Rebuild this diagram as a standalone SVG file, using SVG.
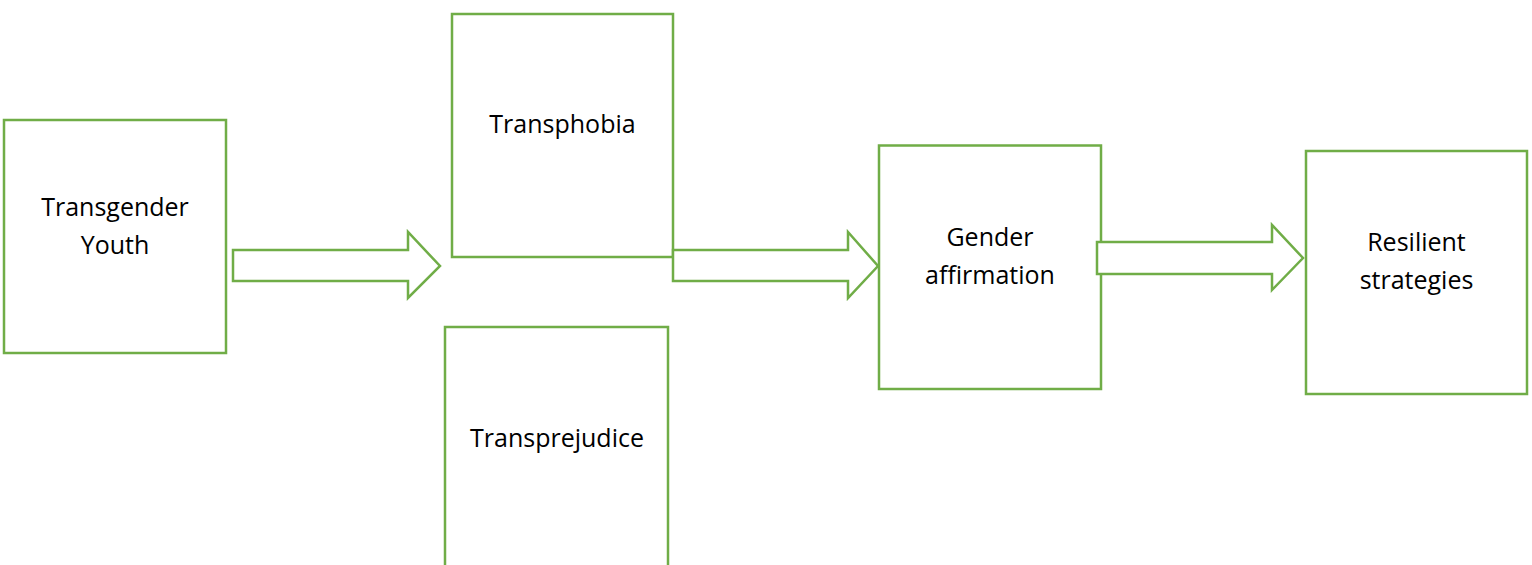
<svg xmlns="http://www.w3.org/2000/svg" width="1532" height="565" viewBox="0 0 1532 565">
<style>
.box{fill:#fff;stroke:#70AD47;stroke-width:2.5}
.arr{fill:#fff;stroke:#70AD47;stroke-width:2.5;stroke-linejoin:miter}
.t{font-family:"Open Sans","Noto Sans",sans-serif;font-size:25px;fill:#000;text-anchor:middle}
</style>
<rect width="1532" height="565" fill="#fff"/>
<g id="n-youth">
<rect class="box" x="4" y="120" width="222" height="233"/>
<text class="t" x="115" y="216">Transgender</text>
<text class="t" x="115" y="254">Youth</text>
</g>
<g id="n-transphobia">
<rect class="box" x="452" y="14" width="221" height="243"/>
<text class="t" x="562.5" y="133">Transphobia</text>
</g>
<g id="n-transprejudice">
<rect class="box" x="445" y="327" width="223" height="250"/>
<text class="t" x="557" y="447">Transprejudice</text>
</g>
<g id="n-gender">
<rect class="box" x="879" y="145.5" width="222" height="243.5"/>
<text class="t" x="990" y="246">Gender</text>
<text class="t" x="990" y="284">affirmation</text>
</g>
<g id="n-resilient">
<rect class="box" x="1306" y="151" width="221" height="243"/>
<text class="t" x="1416.5" y="251">Resilient</text>
<text class="t" x="1416.5" y="289">strategies</text>
</g>
<g id="connectors">
<polygon class="arr" points="233,250 408,250 408,232 440,266 408,298 408,281 233,281"/>
<polygon class="arr" points="673,250 848,250 848,232 878,266 848,298 848,281 673,281"/>
<polygon class="arr" points="1097,242 1272,242 1272,225 1303,258 1272,290 1272,274 1097,274"/>
</g>
</svg>
